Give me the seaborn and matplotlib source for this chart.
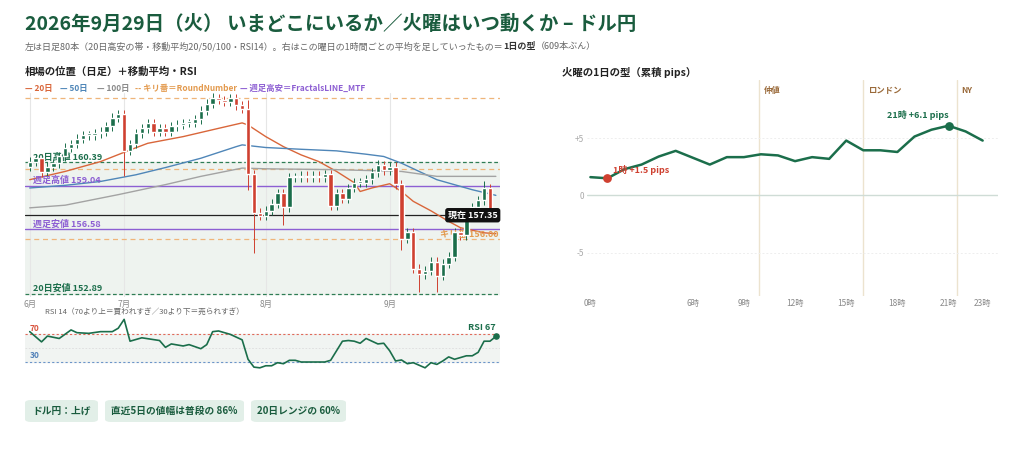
import numpy as np
import pandas as pd
import matplotlib
matplotlib.use("Agg")
import matplotlib.pyplot as plt
from matplotlib.patches import FancyBboxPatch
import seaborn as sns

sns.set_theme(style="white")
plt.rcParams['font.family'] = ['Noto Sans CJK JP', 'DejaVu Sans']

# --- data -------------------------------------------------------------
closes = [160.4, 160.6, 159.8, 160.1, 160.3, 160.7,
          161.2, 161.4, 161.7, 161.9, 161.9, 162.0, 162.1, 162.4, 162.9, 163.1,
          161.0, 161.4, 162.0, 162.3, 162.6, 162.1, 162.3, 162.1, 162.4, 162.5,
          162.6, 162.6, 162.8, 163.3, 163.7, 164.0, 163.9, 163.8, 164.0, 163.6,
          163.4, 159.7, 157.5, 157.3, 157.6, 158.0, 158.6, 157.8, 159.5, 159.5,
          159.6, 159.5, 159.6, 159.5, 159.7, 157.9, 158.6, 158.3, 158.9, 159.2,
          159.2, 159.4, 159.8, 160.2, 159.9, 160.1, 159.1, 156.0, 156.4, 154.3,
          154.0, 154.2, 154.7, 153.9, 154.6, 155.0, 156.4, 156.2, 157.5, 157.8,
          158.2, 158.9, 157.25, 157.35]
first_open = 160.1
long_lows = {16: 159.6, 37: 158.8, 38: 155.2, 43: 156.8, 63: 155.4, 66: 153.0, 69: 153.0}
long_highs = {31: 164.3, 37: 163.9, 59: 160.5, 62: 160.4, 77: 159.3}

ma_days = {
    "20日": ([0, 6, 12, 17, 20, 26, 32, 36, 37, 40, 43, 46, 49, 52, 55, 56, 58, 61, 63,
             65, 68, 71, 73, 77, 79],
            [159.37, 159.84, 160.4, 161.06, 161.44, 161.82, 162.29, 162.6, 162.48,
             161.82, 161.25, 160.78, 160.4, 159.84, 159.2, 158.7, 158.9, 159.14, 158.7,
             158.14, 157.6, 157.0, 156.64, 156.35, 156.3]),
    "50日": ([0, 6, 12, 18, 23, 29, 35, 36, 40, 46, 52, 57, 60, 63, 66, 69, 75, 79],
            [158.9, 159.05, 159.27, 159.65, 160.06, 160.59, 161.25, 161.35, 161.2,
             161.1, 161.01, 160.82, 160.69, 160.31, 159.84, 159.37, 158.8, 158.48]),
    "100日": ([0, 6, 15, 23, 29, 36, 40, 52, 63, 69, 75, 79],
             [157.77, 157.92, 158.52, 159.09, 159.56, 160.03, 159.99, 159.94, 159.84,
              159.56, 159.56, 159.56]),
}
ma_colors = {"20日": "#d9663a", "50日": "#4f86b8", "100日": "#a3a3a3"}

high20, low20 = 160.39, 152.89
week_high, week_low = 159.04, 156.58
round_numbers = [156.0, 160.0, 164.0]
current = 157.35
month_pos = [0, 16, 40, 61]
month_labels = ["6月", "7月", "8月", "9月"]

rsi_x = [0, 2, 3, 5, 7, 8, 10, 12, 14, 15, 16, 17, 19, 22, 23, 24, 26, 27, 29, 30,
         31, 32, 34, 36, 37, 38, 39, 40, 41, 42, 43, 44, 45, 46, 50, 51, 52, 53, 54,
         55, 56, 57, 59, 60, 61, 62, 63, 64, 65, 67, 68, 69, 70, 71, 72, 74, 75, 76,
         77, 78, 79]
rsi_v = [74, 59, 67.5, 64, 76.5, 72.5, 71.5, 74, 74, 79, 92, 60, 65, 61, 51, 56, 53,
         55, 49, 55, 74, 75, 70, 62, 33.5, 22, 21, 24, 24, 28.5, 27, 32, 32, 29.5,
         29.5, 32, 46, 60, 61, 60, 57, 64, 56, 57, 46, 31, 32.5, 27, 28.5, 21, 28.5,
         26, 31, 37, 33.5, 38.6, 38.6, 43.7, 60, 60, 67]

hours = list(range(24))
hour_labels = ["0時", "6時", "9時", "12時", "15時", "18時", "21時", "23時"]
hour_ticks = [0, 6, 9, 12, 15, 18, 21, 23]
pips = [1.6, 1.5, 2.3, 2.7, 3.4, 3.9, 3.3, 2.7, 3.35, 3.35, 3.6, 3.5, 3.0, 3.35,
        3.2, 4.8, 3.95, 3.95, 3.8, 5.15, 5.75, 6.1, 5.6, 4.8]
sessions = [("仲値", 9.9), ("ロンドン", 16.0), ("NY", 21.5)]
badges = ["ドル円：上げ", "直近5日の値幅は普段の 86%", "20日レンジの 60%"]

# --- colours ------------------------------------------------------------
GREEN = "#1b6e4b"
RED = "#cf4030"
PURPLE = "#8d5fd3"
ORANGE = "#efb57a"
GRAY = "#8a8a8a"

W, H = 1024, 462
fig = plt.figure(figsize=(W / 100, H / 100), dpi=100)
renderer = fig.canvas.get_renderer()


def fr(x0, y0, x1, y1):
    return [x0 / W, 1 - y1 / H, (x1 - x0) / W, (y1 - y0) / H]


fig.text(25 / W, 1 - 24 / H, "2026年9月29日（火） いまどこにいるか／火曜はいつ動くか – ドル円",
         fontsize=14, fontweight="bold", color="#1a5c3e", va="center")

# subtitle in pieces, placed one after another
x = 25
for t, bold in [("左は日足80本（20日高安の帯・移動平均20/50/100・RSI14）。右はこの曜日の1時間ごとの平均を足していったもの＝", False),
                ("1日の型", True), ("（609本ぶん）", False)]:
    tx = fig.text(x / W, 1 - 47 / H, t, fontsize=6.5, va="center",
                  color="#333333" if bold else "#666666",
                  fontweight="bold" if bold else "normal")
    x += tx.get_window_extent(renderer).width

fig.text(25 / W, 1 - 72 / H, "相場の位置（日足）＋移動平均・RSI", fontsize=7.5,
         fontweight="bold", color="#222222", va="center")
fig.text(562 / W, 1 - 72 / H, "火曜の1日の型（累積 pips）", fontsize=7.5,
         fontweight="bold", color="#222222", va="center")

legend_items = [(25, "— 20日", ma_colors["20日"]), (60, "— 50日", ma_colors["50日"]),
                (97, "— 100日", GRAY), (135, "-- キリ番＝RoundNumber", "#e39a4e"),
                (240, "— 週足高安＝FractalsLINE_MTF", PURPLE)]
for x, t, c in legend_items:
    fig.text(x / W, 1 - 88 / H, t, fontsize=6, color=c, fontweight="bold", va="center")

# --- main candle chart ---------------------------------------------------
ax = fig.add_axes(fr(25, 93, 500, 297))
n = len(closes)
idx = np.arange(n)
opens = [first_open] + closes[:-1]
ax.axhspan(low20, high20, color="#eef3ef", zorder=0)
for p in month_pos:
    ax.axvline(p, color="#e6e6e6", lw=0.8, zorder=0)
for r in round_numbers:
    ax.axhline(r, color=ORANGE, lw=0.9, ls=(0, (4, 3)), zorder=1)
ax.axhline(high20, color="#2f7d55", lw=0.9, ls=(0, (3, 2)), zorder=1)
ax.axhline(low20, color="#2f7d55", lw=0.9, ls=(0, (3, 2)), zorder=1)
ax.axhline(week_high, color=PURPLE, lw=1.0, zorder=1)
ax.axhline(week_low, color=PURPLE, lw=1.0, zorder=1)
ax.axhline(current, color="#222222", lw=0.9, zorder=1)

for name, (xs, ys) in ma_days.items():
    sns.lineplot(x=xs, y=ys, ax=ax, color=ma_colors[name], lw=1.0, zorder=2)

for i in idx:
    o, c = opens[i], closes[i]
    col = GREEN if c >= o else RED
    hi = long_highs.get(i, max(o, c) + 0.25)
    lo = long_lows.get(i, min(o, c) - 0.25)
    ax.vlines(i, lo, hi, color=col, lw=0.7, zorder=3)
    body = max(abs(c - o), 0.1)
    ax.bar(i, body, bottom=min(o, c), width=0.75, color=col, zorder=4)

ax.set_xlim(-0.8, n - 0.3)
ax.set_ylim(152.7, 164.3)
ax.set_xticks(month_pos)
ax.set_xticklabels(month_labels, fontsize=6, color=GRAY)
ax.tick_params(axis="x", length=0, pad=2)
ax.set_yticks([])
for s in ax.spines.values():
    s.set_visible(False)

ax.text(0.5, high20 + 0.12, "20日高値 160.39", fontsize=6.5, color=GREEN, fontweight="bold")
ax.text(0.5, week_high + 0.12, "週足高値 159.04", fontsize=6.5, color=PURPLE, fontweight="bold")
ax.text(0.5, week_low + 0.12, "週足安値 156.58", fontsize=6.5, color=PURPLE, fontweight="bold")
ax.text(0.5, low20 + 0.15, "20日安値 152.89", fontsize=6.5, color=GREEN, fontweight="bold")
ax.text(n - 0.5, 156.0 + 0.1, "キリ番 156.00", fontsize=6.5, color="#e39a4e",
        fontweight="bold", ha="right")
ax.text(n - 0.7, current, "現在 157.35", fontsize=6.5, color="white", fontweight="bold",
        ha="right", va="center", zorder=6,
        bbox=dict(boxstyle="round,pad=0.3", fc="#111111", ec="none"))

# --- RSI ---------------------------------------------------------------
axr = fig.add_axes(fr(25, 318, 500, 376))
axr.axhspan(30, 70, color="#f1f4f2", zorder=0)
axr.axhline(70, color="#e06a5a", lw=0.8, ls=(0, (2, 2)))
axr.axhline(30, color="#6c95c9", lw=0.8, ls=(0, (2, 2)))
axr.axhline(50, color="#dddddd", lw=0.6, ls=(0, (2, 2)))
sns.lineplot(x=rsi_x, y=rsi_v, ax=axr, color=GREEN, lw=1.2)
axr.scatter([rsi_x[-1]], [rsi_v[-1]], color=GREEN, s=14, zorder=5)
axr.text(rsi_x[-1], rsi_v[-1] + 6, "RSI 67", fontsize=6.5, color=GREEN,
         fontweight="bold", ha="right", va="bottom")
axr.text(0, 72, "70", fontsize=6, color="#d9553f", fontweight="bold", va="bottom")
axr.text(0, 32, "30", fontsize=6, color="#4f7fb8", fontweight="bold", va="bottom")
axr.set_xlim(-0.8, n - 0.3)
axr.set_ylim(9, 94)
axr.axis("off")
fig.text(45 / W, 1 - 312 / H, "RSI 14（70より上＝買われすぎ／30より下＝売られすぎ）",
         fontsize=5.5, color="#666666", va="center")

# --- badges ---------------------------------------------------------------
for (x0, x1), t in zip([(25, 98), (105, 244), (251, 346)], badges):
    fig.patches.append(FancyBboxPatch((x0 / W, 1 - 422 / H), (x1 - x0) / W, 22 / H,
                                      boxstyle="round,pad=0,rounding_size=0.006",
                                      transform=fig.transFigure, fc="#e2efe8", ec="none"))
    fig.text((x0 + x1) / 2 / W, 1 - 411 / H, t, fontsize=7, color="#1a5c3e",
             fontweight="bold", ha="center", va="center")

# --- hourly shape -----------------------------------------------------------
axh = fig.add_axes(fr(587, 80, 998, 296))
df = pd.DataFrame({"hour": hours, "pips": pips})
for lbl, hx in sessions:
    axh.axvline(hx, color="#ece3cf", lw=1.0, zorder=0)
    axh.text(hx + 0.25, 9.2, lbl, fontsize=6, color="#9a6a3a", fontweight="bold", va="center")
axh.axhline(0, color="#cfdcd6", lw=1.0, zorder=0)
for g in (5, -5):
    axh.axhline(g, color="#eeeeee", lw=0.7, ls=(0, (2, 2)), zorder=0)
sns.lineplot(data=df, x="hour", y="pips", ax=axh, color=GREEN, lw=1.8, zorder=3)
axh.scatter([1], [pips[1]], color=RED, s=28, zorder=5)
axh.scatter([21], [pips[21]], color=GREEN, s=28, zorder=5)
axh.text(1.3, pips[1] + 0.5, "1時 +1.5 pips", fontsize=6.5, color=RED, fontweight="bold")
axh.text(21, pips[21] + 0.7, "21時 +6.1 pips", fontsize=6.5, color=GREEN,
         fontweight="bold", ha="right")
axh.set_xlim(-0.2, 23.9)
axh.set_ylim(-8.8, 10.1)
axh.set_xticks(hour_ticks)
axh.set_xticklabels(hour_labels, fontsize=6, color=GRAY)
axh.set_yticks([5, 0, -5])
axh.set_yticklabels(["+5", "0", "-5"], fontsize=6, color="#aaaaaa")
axh.tick_params(length=0, pad=2)
axh.set_xlabel("")
axh.set_ylabel("")
for s in axh.spines.values():
    s.set_visible(False)

fig.savefig("out.png", dpi=100, facecolor="white")
